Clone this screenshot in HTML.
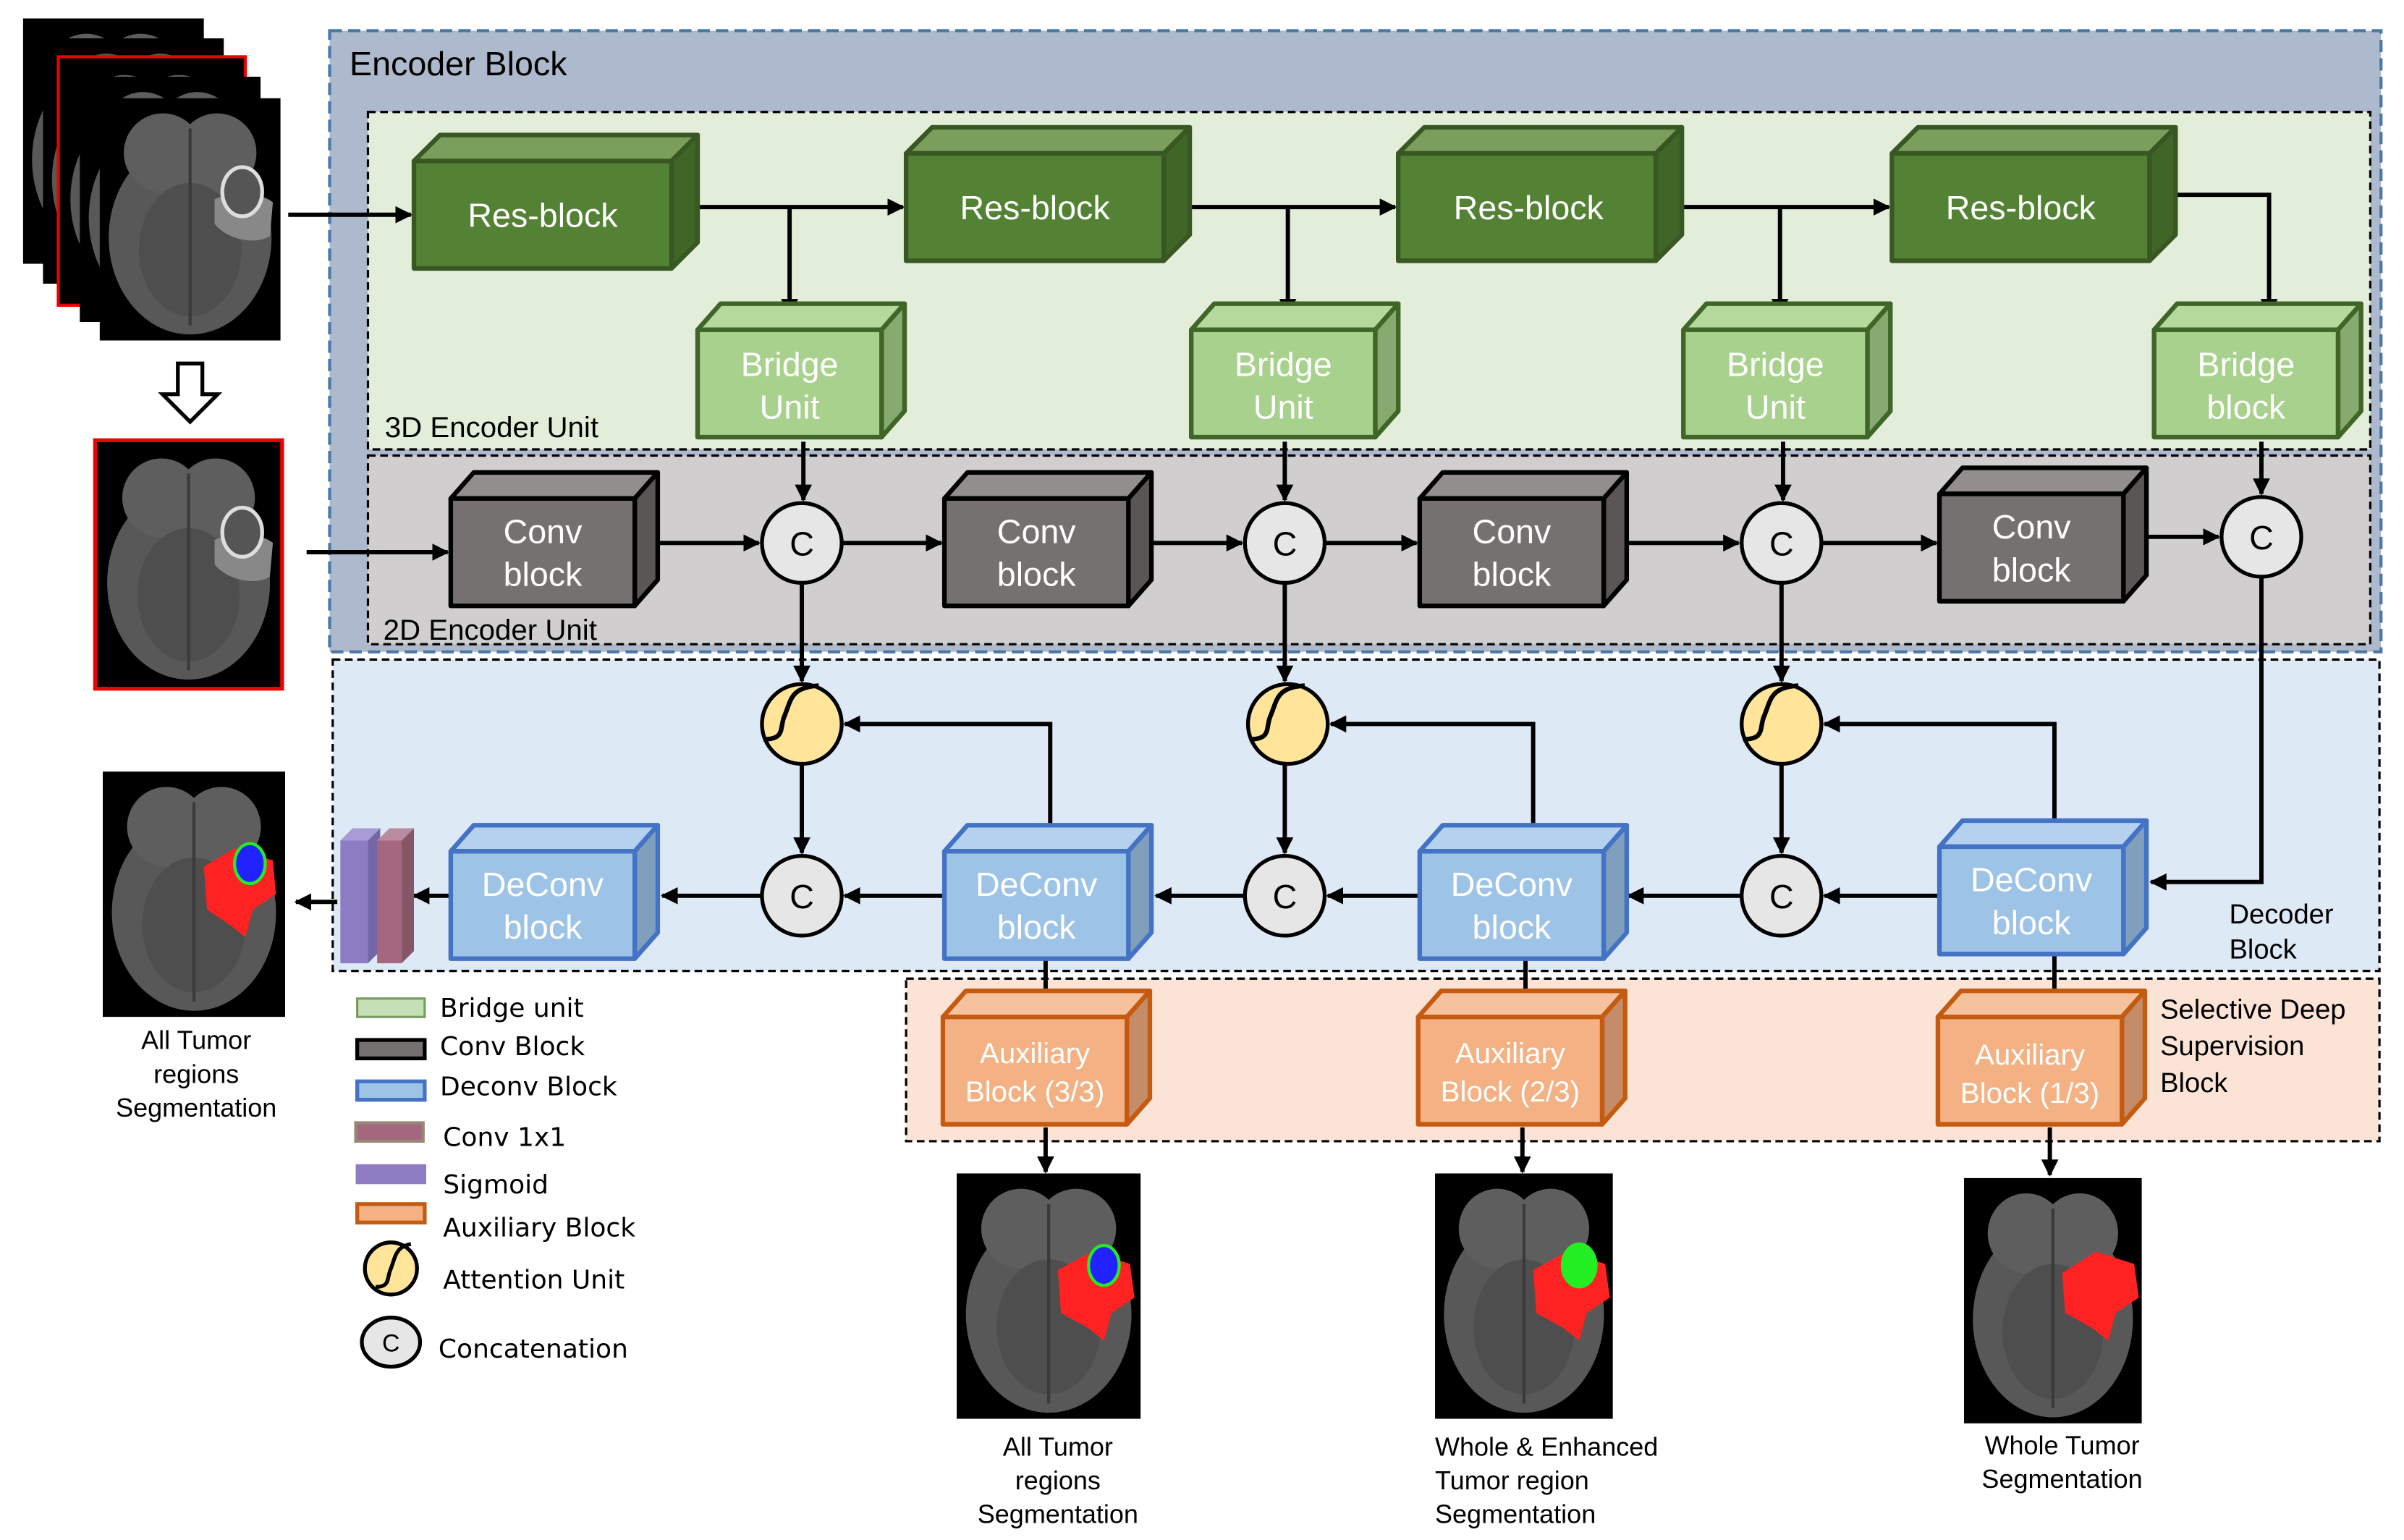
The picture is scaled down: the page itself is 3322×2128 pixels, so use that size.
<!DOCTYPE html>
<html><head><meta charset="utf-8"><style>
html,body{margin:0;padding:0;background:#fff;}
svg{display:block;}
text{font-family:"Liberation Sans",sans-serif;}
</style></head><body>
<svg width="3322" height="2128" viewBox="0 0 1568 1004" preserveAspectRatio="none" xmlns="http://www.w3.org/2000/svg">
<defs>
<marker id="a" viewBox="0 0 10 10" refX="9" refY="5" markerWidth="4" markerHeight="4" orient="auto"><path d="M0,0L10,5L0,10z" fill="#000"/></marker>
<symbol id="brain" viewBox="0 0 120 160" preserveAspectRatio="none">
<rect width="120" height="160" fill="#000"/>
<ellipse cx="60" cy="92" rx="54" ry="64" fill="#585858"/>
<ellipse cx="42" cy="36" rx="26" ry="26" fill="#5e5e5e"/>
<ellipse cx="78" cy="36" rx="26" ry="26" fill="#5e5e5e"/>
<ellipse cx="60" cy="100" rx="34" ry="44" fill="#4e4e4e"/>
<path d="M60,20V150" stroke="#3a3a3a" stroke-width="2"/>
</symbol>
</defs>

<rect x="215" y="20" width="1338" height="405" fill="#adb9cc" stroke="#4a78a8" stroke-width="2" stroke-dasharray="8,4"/>
<rect x="240" y="73" width="1306" height="220" fill="#e2eed9" stroke="#000" stroke-width="1.5" stroke-dasharray="5,3"/>
<rect x="240" y="297" width="1306" height="123" fill="#d0cece" stroke="#000" stroke-width="1.5" stroke-dasharray="5,3"/>
<rect x="217" y="430" width="1335" height="203" fill="#dde9f5" stroke="#000" stroke-width="1.5" stroke-dasharray="5,3"/>
<rect x="591" y="638" width="961" height="106" fill="#fbe4d5" stroke="#000" stroke-width="1.5" stroke-dasharray="5,3"/>

<text x="228" y="49" font-size="22">Encoder Block</text>
<text x="251" y="285" font-size="19">3D Encoder Unit</text>
<text x="250" y="417" font-size="19">2D Encoder Unit</text>
<text x="1454" y="602" font-size="18">Decoder</text>
<text x="1454" y="625" font-size="18">Block</text>
<text x="1409" y="664" font-size="18">Selective Deep</text>
<text x="1409" y="688" font-size="18">Supervision</text>
<text x="1409" y="712" font-size="18">Block</text>

<use href="#brain" x="15" y="12" width="118" height="160"/>
<use href="#brain" x="28" y="25" width="118" height="160"/>
<rect x="38" y="37" width="122" height="162" fill="#000" stroke="#e00" stroke-width="2"/>
<use href="#brain" x="40" y="39" width="118" height="158"/>
<use href="#brain" x="52" y="50" width="118" height="160"/>
<use href="#brain" x="65" y="64" width="118" height="158"/>
<path d="M140,130c10,-5 30,-5 38,2l-2,22c-10,6 -28,2 -36,-8z" fill="#888"/>
<ellipse cx="158" cy="125" rx="13" ry="16" fill="#555" stroke="#ddd" stroke-width="2.5"/>
<path d="M116,237h16v20h10l-18,18l-18,-18h10z" fill="#fff" stroke="#000" stroke-width="2.5"/>
<rect x="62" y="287" width="122" height="162" fill="#000" stroke="#e00" stroke-width="2.5"/>
<use href="#brain" x="64" y="289" width="118" height="158"/>
<path d="M140,352c10,-5 30,-5 38,2l-2,22c-10,6 -28,2 -36,-8z" fill="#888"/>
<ellipse cx="158" cy="347" rx="13" ry="16" fill="#555" stroke="#ddd" stroke-width="2.5"/>

<use href="#brain" x="67" y="503" width="119" height="160"/>
<path d="M133,565l20,-12l25,8l2,22l-15,10l-5,18l-10,-8l-15,-10z" fill="#f22"/>
<ellipse cx="163" cy="563" rx="10" ry="13" fill="#22f" stroke="#2e2" stroke-width="2"/>
<use href="#brain" x="624" y="765" width="120" height="160"/>
<path d="M690,828l22,-12l25,8l3,22l-15,10l-5,18l-10,-8l-18,-10z" fill="#f22"/>
<ellipse cx="720" cy="825" rx="10" ry="13" fill="#22f" stroke="#2e2" stroke-width="2"/>
<use href="#brain" x="936" y="765" width="116" height="160"/>
<path d="M1000,828l22,-12l25,8l3,22l-15,10l-5,18l-10,-8l-18,-10z" fill="#f22"/>
<ellipse cx="1030" cy="825" rx="12" ry="15" fill="#2e2"/>
<use href="#brain" x="1281" y="768" width="116" height="160"/>
<path d="M1345,830l22,-14l25,8l3,22l-15,10l-5,18l-10,-8l-18,-10z" fill="#f22"/>

<g font-size="17" text-anchor="middle">
<text x="128" y="684">All Tumor</text><text x="128" y="706">regions</text><text x="128" y="728">Segmentation</text>
<text x="690" y="949">All Tumor</text><text x="690" y="971">regions</text><text x="690" y="993">Segmentation</text>
<text x="1345" y="948">Whole Tumor</text><text x="1345" y="970">Segmentation</text>
</g>
<g font-size="17"><text x="936" y="949">Whole &amp; Enhanced</text><text x="936" y="971">Tumor region</text><text x="936" y="993">Segmentation</text></g>

<g stroke="#000" stroke-width="2.8" fill="none" marker-end="url(#a)">
<path d="M188,140H268"/>
<path d="M447,135H589"/><path d="M515,135V205"/>
<path d="M768,135H910"/><path d="M840,135V205"/>
<path d="M1090,135H1232"/><path d="M1161,135V205"/>
<path d="M1420,127H1480V205"/>
<path d="M524,288V326"/><path d="M838,288V326"/><path d="M1163,288V326"/><path d="M1475,288V322"/>
<path d="M200,360H292"/>
<path d="M422,354H495"/><path d="M549,354H614"/>
<path d="M744,354H810"/><path d="M864,354H924"/>
<path d="M1058,354H1134"/><path d="M1188,354H1263"/>
<path d="M1392,350H1447"/>
<path d="M523,380V444"/><path d="M838,380V444"/><path d="M1162,380V444"/>
<path d="M1475,376V575H1403"/>
<path d="M523,498V556"/><path d="M838,498V556"/><path d="M1162,498V556"/>
<path d="M685,540V472H551"/><path d="M1000,540V472H868"/><path d="M1340,537V472H1190"/>
<path d="M1265,584H1190"/><path d="M1136,584H1062"/>
<path d="M926,584H866"/><path d="M812,584H754"/>
<path d="M616,584H551"/><path d="M497,584H432"/>
<path d="M294,584H270"/><path d="M220,588H193"/>
<path d="M682,626V656"/><path d="M995,626V656"/><path d="M1340,623V656"/>
<path d="M682,735V764"/><path d="M993,735V764"/><path d="M1337,735V766"/>
</g>

<g stroke-width="3" stroke-linejoin="round">
<g stroke="#385723">
<path d="M270,105l17,-17h168l-17,17z" fill="#7a9e5c"/><path d="M438,105l17,-17v70l-17,17z" fill="#3f6527"/><rect x="270" y="105" width="168" height="70" fill="#548235"/>
<path d="M591,100l17,-17h168l-17,17z" fill="#7a9e5c"/><path d="M759,100l17,-17v70l-17,17z" fill="#3f6527"/><rect x="591" y="100" width="168" height="70" fill="#548235"/>
<path d="M912,100l17,-17h168l-17,17z" fill="#7a9e5c"/><path d="M1080,100l17,-17v70l-17,17z" fill="#3f6527"/><rect x="912" y="100" width="168" height="70" fill="#548235"/>
<path d="M1234,100l17,-17h168l-17,17z" fill="#7a9e5c"/><path d="M1402,100l17,-17v70l-17,17z" fill="#3f6527"/><rect x="1234" y="100" width="168" height="70" fill="#548235"/>
</g>
<g stroke="#3f6527">
<path d="M455,215l15,-17h120l-15,17z" fill="#b5d99c"/><path d="M575,215l15,-17v70l-15,17z" fill="#88a96f"/><rect x="455" y="215" width="120" height="70" fill="#a9d18e"/>
<path d="M777,215l15,-17h120l-15,17z" fill="#b5d99c"/><path d="M897,215l15,-17v70l-15,17z" fill="#88a96f"/><rect x="777" y="215" width="120" height="70" fill="#a9d18e"/>
<path d="M1098,215l15,-17h120l-15,17z" fill="#b5d99c"/><path d="M1218,215l15,-17v70l-15,17z" fill="#88a96f"/><rect x="1098" y="215" width="120" height="70" fill="#a9d18e"/>
<path d="M1405,215l15,-17h120l-15,17z" fill="#b5d99c"/><path d="M1525,215l15,-17v70l-15,17z" fill="#88a96f"/><rect x="1405" y="215" width="120" height="70" fill="#a9d18e"/>
</g>
<g stroke="#000">
<path d="M294,325l15,-17h120l-15,17z" fill="#928e8e"/><path d="M414,325l15,-17v70l-15,17z" fill="#5a5656"/><rect x="294" y="325" width="120" height="70" fill="#767171"/>
<path d="M616,325l15,-17h120l-15,17z" fill="#928e8e"/><path d="M736,325l15,-17v70l-15,17z" fill="#5a5656"/><rect x="616" y="325" width="120" height="70" fill="#767171"/>
<path d="M926,325l15,-17h120l-15,17z" fill="#928e8e"/><path d="M1046,325l15,-17v70l-15,17z" fill="#5a5656"/><rect x="926" y="325" width="120" height="70" fill="#767171"/>
<path d="M1265,322l15,-17h120l-15,17z" fill="#928e8e"/><path d="M1385,322l15,-17v70l-15,17z" fill="#5a5656"/><rect x="1265" y="322" width="120" height="70" fill="#767171"/>
</g>
<g stroke="#4472c4">
<path d="M294,555l15,-17h120l-15,17z" fill="#b4d2ee"/><path d="M414,555l15,-17v70l-15,17z" fill="#7f9fbd"/><rect x="294" y="555" width="120" height="70" fill="#9dc3e6"/>
<path d="M616,555l15,-17h120l-15,17z" fill="#b4d2ee"/><path d="M736,555l15,-17v70l-15,17z" fill="#7f9fbd"/><rect x="616" y="555" width="120" height="70" fill="#9dc3e6"/>
<path d="M926,555l15,-17h120l-15,17z" fill="#b4d2ee"/><path d="M1046,555l15,-17v70l-15,17z" fill="#7f9fbd"/><rect x="926" y="555" width="120" height="70" fill="#9dc3e6"/>
<path d="M1265,552l15,-17h120l-15,17z" fill="#b4d2ee"/><path d="M1385,552l15,-17v70l-15,17z" fill="#7f9fbd"/><rect x="1265" y="552" width="120" height="70" fill="#9dc3e6"/>
</g>
<g stroke="#c55a11">
<path d="M615,663l15,-17h120l-15,17z" fill="#f6c29e"/><path d="M735,663l15,-17v70l-15,17z" fill="#c48d68"/><rect x="615" y="663" width="120" height="70" fill="#f4b183"/>
<path d="M925,663l15,-17h120l-15,17z" fill="#f6c29e"/><path d="M1045,663l15,-17v70l-15,17z" fill="#c48d68"/><rect x="925" y="663" width="120" height="70" fill="#f4b183"/>
<path d="M1264,663l15,-17h120l-15,17z" fill="#f6c29e"/><path d="M1384,663l15,-17v70l-15,17z" fill="#c48d68"/><rect x="1264" y="663" width="120" height="70" fill="#f4b183"/>
</g>
</g>
<path d="M222,548l8,-8h18l-8,8z" fill="#a99bd6"/><path d="M240,548l8,-8v80l-8,8z" fill="#7566a8"/><rect x="222" y="548" width="18" height="80" fill="#8e7cc3"/>
<path d="M246,548l8,-8h16l-8,8z" fill="#b98aa0"/><path d="M262,548l8,-8v80l-8,8z" fill="#855668"/><rect x="246" y="548" width="16" height="80" fill="#a5667f"/>

<g stroke="#000" stroke-width="2.5">
<circle cx="523" cy="354" r="26" fill="#e7e6e6"/><circle cx="838" cy="354" r="26" fill="#e7e6e6"/>
<circle cx="1162" cy="354" r="26" fill="#e7e6e6"/><circle cx="1475" cy="350" r="26" fill="#e7e6e6"/>
<circle cx="523" cy="584" r="26" fill="#e7e6e6"/><circle cx="838" cy="584" r="26" fill="#e7e6e6"/><circle cx="1162" cy="584" r="26" fill="#e7e6e6"/>
<circle cx="523" cy="472" r="26" fill="#fee599"/><circle cx="840" cy="472" r="26" fill="#fee599"/><circle cx="1162" cy="472" r="26" fill="#fee599"/>
</g>
<g stroke="#000" stroke-width="3" fill="none">
<path d="M498,482c15,0 10,-8 14,-16c4,-10 4,-18 22,-19"/>
<path d="M815,482c15,0 10,-8 14,-16c4,-10 4,-18 22,-19"/>
<path d="M1137,482c15,0 10,-8 14,-16c4,-10 4,-18 22,-19"/>
</g>
<g font-size="22" text-anchor="middle">
<text x="523" y="362">C</text><text x="838" y="362">C</text><text x="1162" y="362">C</text><text x="1475" y="358">C</text>
<text x="523" y="592">C</text><text x="838" y="592">C</text><text x="1162" y="592">C</text>
</g>

<g font-size="22" fill="#fff" text-anchor="middle">
<text x="354" y="148">Res-block</text><text x="675" y="143">Res-block</text><text x="997" y="143">Res-block</text><text x="1318" y="143">Res-block</text>
<text x="515" y="245">Bridge</text><text x="515" y="273">Unit</text>
<text x="837" y="245">Bridge</text><text x="837" y="273">Unit</text>
<text x="1158" y="245">Bridge</text><text x="1158" y="273">Unit</text>
<text x="1465" y="245">Bridge</text><text x="1465" y="273">block</text>
<text x="354" y="354">Conv</text><text x="354" y="382">block</text>
<text x="676" y="354">Conv</text><text x="676" y="382">block</text>
<text x="986" y="354">Conv</text><text x="986" y="382">block</text>
<text x="1325" y="351">Conv</text><text x="1325" y="379">block</text>
<text x="354" y="584">DeConv</text><text x="354" y="612">block</text>
<text x="676" y="584">DeConv</text><text x="676" y="612">block</text>
<text x="986" y="584">DeConv</text><text x="986" y="612">block</text>
<text x="1325" y="581">DeConv</text><text x="1325" y="609">block</text>
</g>
<g font-size="19" fill="#fff" text-anchor="middle">
<text x="675" y="693">Auxiliary</text><text x="675" y="718">Block (3/3)</text>
<text x="985" y="693">Auxiliary</text><text x="985" y="718">Block (2/3)</text>
<text x="1324" y="694">Auxiliary</text><text x="1324" y="719">Block (1/3)</text>
</g>

<rect x="233" y="651" width="44" height="12" fill="#c5e0b4" stroke="#779c5e" stroke-width="1.5"/>
<rect x="233" y="678" width="44" height="12" fill="#767171" stroke="#000" stroke-width="2.5"/>
<rect x="233" y="705" width="44" height="12" fill="#9dc3e6" stroke="#4472c4" stroke-width="2.5"/>
<rect x="232" y="732" width="44" height="12" fill="#a5667f" stroke="#968878" stroke-width="2"/>
<rect x="232" y="759" width="46" height="13" fill="#8e7cc3"/>
<rect x="233" y="785" width="44" height="12" fill="#f4b183" stroke="#c55a11" stroke-width="2.5"/>
<circle cx="255" cy="827" r="17" fill="#fee599" stroke="#000" stroke-width="2.5"/>
<path d="M245,839c10,0 7,-6 10,-12c3,-8 3,-14 13,-16" stroke="#000" stroke-width="2.5" fill="none"/>
<ellipse cx="255" cy="875" rx="19" ry="16" fill="#e7e6e6" stroke="#000" stroke-width="2.5"/>
<text x="255" y="881" font-size="16" text-anchor="middle">C</text>
<g font-size="17">
<text x="287" y="663" style="font-family:'DejaVu Sans',sans-serif">Bridge unit</text>
<text x="287" y="688" style="font-family:'DejaVu Sans',sans-serif">Conv Block</text>
<text x="287" y="714" style="font-family:'DejaVu Sans',sans-serif">Deconv Block</text>
<text x="289" y="747" style="font-family:'DejaVu Sans',sans-serif">Conv 1x1</text>
<text x="289" y="778" style="font-family:'DejaVu Sans',sans-serif">Sigmoid</text>
<text x="289" y="806" style="font-family:'DejaVu Sans',sans-serif">Auxiliary Block</text>
<text x="289" y="840" style="font-family:'DejaVu Sans',sans-serif">Attention Unit</text>
<text x="286" y="885" style="font-family:'DejaVu Sans',sans-serif">Concatenation</text>
</g>
</svg>
</body></html>
